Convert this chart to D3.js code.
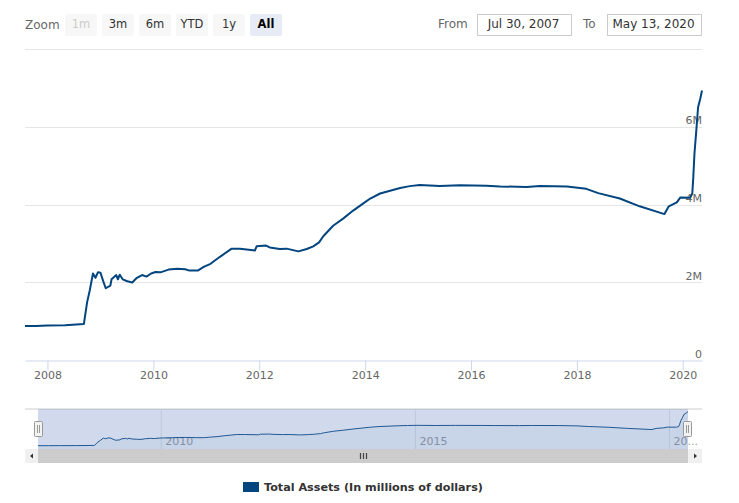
<!DOCTYPE html>
<html>
<head>
<meta charset="utf-8">
<script src="https://cdn.jsdelivr.net/npm/d3@7"></script>
<style>
  html, body { margin: 0; padding: 0; background: #fff; }
  text { font-family: "DejaVu Sans", sans-serif; }
</style>
</head>
<body>
<div id="chart"></div>
<script>
// Values, in millions of dollars
var dates = [
  '2007-07-30','2007-10-15','2008-01-01','2008-05-01','2008-09-08','2008-10-01','2008-10-19','2008-11-10','2008-11-27','2008-12-14',
  '2009-01-01','2009-01-19','2009-02-06','2009-03-10','2009-03-18','2009-04-20','2009-05-01','2009-05-14','2009-06-03','2009-07-05',
  '2009-08-08','2009-09-09','2009-10-15','2009-11-14','2009-12-16','2010-01-16','2010-02-18','2010-04-16','2010-06-14','2010-08-08',
  '2010-09-02','2010-11-06','2010-12-14','2011-01-30','2011-04-05','2011-06-25','2011-08-22','2011-11-20','2011-12-02','2011-12-14',
  '2012-02-17','2012-03-14','2012-05-22','2012-07-08','2012-09-27','2012-11-24','2013-01-08','2013-02-17','2013-03-18','2013-05-25',
  '2013-08-04','2013-10-10','2013-12-17','2014-02-05','2014-04-14','2014-08-30','2014-11-05','2015-01-12','2015-05-30','2015-10-16',
  '2016-04-16','2016-07-20','2017-01-19','2017-04-20','2017-10-24','2018-03-07','2018-05-28','2018-10-24','2019-03-10','2019-08-28',
  '2019-09-27','2019-11-21','2019-12-16','2020-02-21','2020-03-07','2020-03-14','2020-03-22','2020-04-02','2020-04-16','2020-05-01',
  '2020-05-13'
]
var totalAssets = [
  0.887,0.890,0.900,0.905,0.938,1.51,1.81,2.24,2.13,2.27,
  2.26,2.05,1.86,1.93,2.09,2.20,2.09,2.21,2.09,2.04,
  2.01,2.13,2.20,2.16,2.24,2.28,2.27,2.34,2.36,2.35,
  2.32,2.32,2.41,2.49,2.67,2.88,2.88,2.84,2.83,2.94,
  2.96,2.91,2.87,2.88,2.81,2.87,2.94,3.04,3.20,3.47,
  3.66,3.86,4.04,4.17,4.30,4.44,4.49,4.52,4.49,4.51,
  4.50,4.48,4.47,4.49,4.48,4.42,4.31,4.17,3.97,3.77,
  3.97,4.07,4.20,4.19,4.30,4.72,5.33,5.84,6.52,6.74,
  6.95
]
var yTicks = [0, 2, 4, 6, 8]
var xTickYears = [2008, 2010, 2012, 2014, 2016, 2018, 2020]
var navTickYears = [2010, 2015, 2020]
var zoomButtons = ['1m', '3m', '6m', 'YTD', '1y', 'All']
var fromLabel = 'Jul 30, 2007'
var toLabel = 'May 13, 2020'
var seriesName = 'Total Assets (In millions of dollars)'

var lineColor = '#03457f'
var parseDate = d3.utcParse('%Y-%m-%d')
var series = dates.map(function(d, i){ return { date: parseDate(d), value: totalAssets[i] } })
var startDate = series[0].date
var endDate = series[series.length - 1].date
function yearDate(y){ return new Date(Date.UTC(y, 0, 1)) }

var svg = d3.select('#chart').append('svg')
  .attr('width', 739).attr('height', 503)
  .style('display', 'block')

// ----- range selector
svg.append('text').attr('x', 25).attr('y', 29).attr('font-size', 12).attr('fill', '#666').text('Zoom')

var buttons = svg.selectAll('g.btn').data(zoomButtons).enter().append('g')
  .attr('transform', function(d, i){ return 'translate(' + (65 + i * 37) + ',14)' })
buttons.append('rect')
  .attr('width', 32).attr('height', 22).attr('rx', 2)
  .attr('fill', function(d){ return d == 'All' ? '#e6ebf5' : '#f7f7f7' })
buttons.append('text')
  .attr('x', 16).attr('y', 14).attr('text-anchor', 'middle').attr('font-size', 11.5)
  .attr('font-weight', function(d){ return d == 'All' ? 'bold' : 'normal' })
  .attr('fill', function(d){ return d == '1m' ? '#cccccc' : (d == 'All' ? '#000' : '#333') })
  .text(function(d){ return d })

function dateBox(label, text, labelX, boxX){
  svg.append('text').attr('x', labelX).attr('y', 28).attr('font-size', 12).attr('fill', '#666').text(label)
  svg.append('rect').attr('x', boxX + 0.5).attr('y', 14.5).attr('width', 94).attr('height', 21)
    .attr('fill', '#fff').attr('stroke', '#cccccc')
  svg.append('text').attr('x', boxX + 46.5).attr('y', 28).attr('text-anchor', 'middle')
    .attr('font-size', 12).attr('fill', '#333').text(text)
}
dateBox('From', fromLabel, 438, 477)
dateBox('To', toLabel, 583, 607)

// ----- main plot
var x = d3.scaleUtc().domain([startDate, endDate]).range([25, 702])
var y = d3.scaleLinear().domain([0, 8]).range([360.5, 49.8])

svg.append('g').selectAll('line').data(yTicks).enter().append('line')
  .attr('x1', 25).attr('x2', 702)
  .attr('y1', function(d){ return Math.floor(y(d)) + 0.5 })
  .attr('y2', function(d){ return Math.floor(y(d)) + 0.5 })
  .attr('stroke', function(d){ return d == 0 ? 'none' : '#e6e6e6' })

var xAxis = d3.axisBottom(x)
  .tickValues(xTickYears.map(yearDate))
  .tickFormat(d3.utcFormat('%Y'))
  .tickSize(10).tickPadding(1).tickSizeOuter(0)
var xAxisG = svg.append('g').attr('transform', 'translate(0,360.5)').call(xAxis)
xAxisG.selectAll('path, line').attr('stroke', '#ccd6eb')
xAxisG.selectAll('text').attr('font-size', 11).attr('fill', '#666')
  .style('font-family', '"DejaVu Sans", sans-serif')

svg.append('g').selectAll('text').data(yTicks.slice(0, 4)).enter().append('text')
  .attr('x', 702).attr('y', function(d){ return y(d) - 3 })
  .attr('text-anchor', 'end').attr('font-size', 11).attr('fill', '#666')
  .text(function(d){ return d == 0 ? '0' : d + 'M' })

var line = d3.line()
  .x(function(d){ return x(d.date) })
  .y(function(d){ return y(d.value) })
svg.append('path').datum(series)
  .attr('d', line).attr('fill', 'none').attr('stroke', lineColor)
  .attr('stroke-width', 2).attr('stroke-linejoin', 'round')

// ----- navigator
var navX = d3.scaleUtc().domain([startDate, endDate]).range([38, 688])
var navY = d3.scaleLinear().domain([totalAssets[0], 6.95]).range([445.7, 411.7])

svg.append('line').attr('x1', 25).attr('x2', 702).attr('y1', 409).attr('y2', 409).attr('stroke', '#cccccc')

var navG = svg.append('g')
navG.selectAll('line').data(navTickYears).enter().append('line')
  .attr('x1', function(d){ return navX(yearDate(d)) })
  .attr('x2', function(d){ return navX(yearDate(d)) })
  .attr('y1', 409).attr('y2', 449).attr('stroke', '#e6e6e6')
navG.selectAll('text').data(navTickYears).enter().append('text')
  .attr('x', function(d){ return navX(yearDate(d)) + 4 })
  .attr('y', 445).attr('font-size', 11).attr('fill', '#999')
  .text(function(d){ return d == 2020 ? '20...' : d })

var navArea = d3.area()
  .x(function(d){ return navX(d.date) })
  .y0(449)
  .y1(function(d){ return navY(d.value) })
svg.append('path').datum(series).attr('d', navArea).attr('fill', '#03457f').attr('fill-opacity', 0.05)
svg.append('path').datum(series)
  .attr('d', d3.line().x(function(d){ return navX(d.date) }).y(function(d){ return navY(d.value) }))
  .attr('fill', 'none').attr('stroke', lineColor).attr('stroke-width', 1)

// selection mask
svg.append('rect').attr('x', 38).attr('y', 409).attr('width', 650).attr('height', 40)
  .attr('fill', '#6685c2').attr('fill-opacity', 0.3)

function navHandle(cx){
  svg.append('rect').attr('x', cx - 4).attr('y', 421.5).attr('width', 8).attr('height', 15)
    .attr('rx', 1).attr('fill', '#f2f2f2').attr('stroke', '#999')
  svg.append('path').attr('d', 'M' + (cx - 1) + ',425V433M' + (cx + 1) + ',425V433')
    .attr('stroke', '#999').attr('fill', 'none')
}
navHandle(38.5)
navHandle(687.5)

// ----- scrollbar
svg.append('rect').attr('x', 25).attr('y', 449).attr('width', 677).attr('height', 14).attr('fill', '#cccccc')
svg.append('rect').attr('x', 25).attr('y', 449).attr('width', 13).attr('height', 14).attr('fill', '#f0f0f0')
svg.append('rect').attr('x', 688).attr('y', 449).attr('width', 14).attr('height', 14).attr('fill', '#f0f0f0')
svg.append('path').attr('d', 'M33,453.5L30,456L33,458.5Z').attr('fill', '#333')
svg.append('path').attr('d', 'M694,453.5L697,456L694,458.5Z').attr('fill', '#333')
svg.append('path').attr('d', 'M360.5,453V459M363.5,453V459M366.5,453V459')
  .attr('stroke', '#444').attr('stroke-width', 1.2)

// ----- legend
svg.append('rect').attr('x', 243).attr('y', 482).attr('width', 16).attr('height', 10).attr('fill', lineColor)
svg.append('text').attr('x', 264).attr('y', 491).attr('font-size', 11.2).attr('font-weight', 'bold')
  .attr('fill', '#333').text(seriesName)
</script>
</body>
</html>
